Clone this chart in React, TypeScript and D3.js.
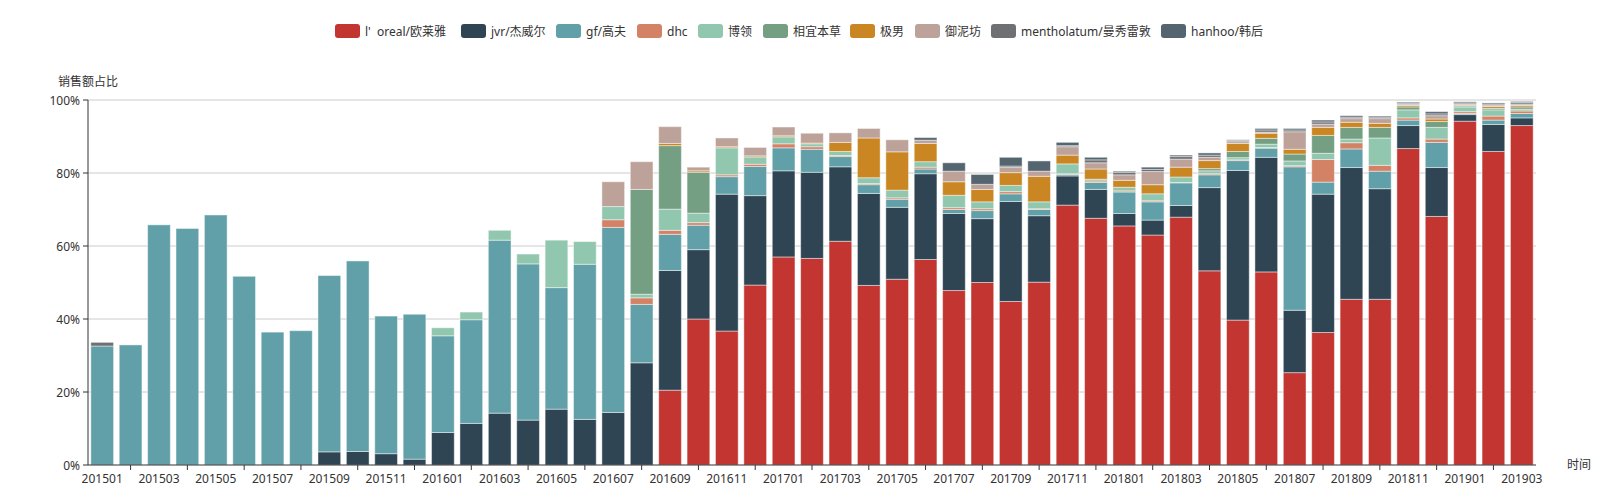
import React from 'react';
import * as d3 from 'd3';

const months = [
  '201501','201502','201503','201504','201505','201506','201507','201508','201509','201510','201511','201512',
  '201601','201602','201603','201604','201605','201606','201607','201608','201609','201610','201611','201612',
  '201701','201702','201703','201704','201705','201706','201707','201708','201709','201710','201711','201712',
  '201801','201802','201803','201804','201805','201806','201807','201808','201809','201810','201811','201812',
  '201901','201902','201903'
];

const seriesNames = [
  "l'  oreal/欧莱雅", 'jvr/杰威尔', 'gf/高夫', 'dhc', '博领', '相宜本草', '极男', '御泥坊', 'mentholatum/曼秀雷敦', 'hanhoo/韩后'
];

const loreal = [0,0,0,0,0,0,0,0,0,0, 0,0,0,0,0,0,0,0,0,0, 20.5,40.0,36.7,49.3,57.0,56.6,61.3,49.2,50.9,56.3, 47.8,50.0,44.8,50.1,71.2,67.6,65.5,63.0,67.9,53.2, 39.7,52.9,25.3,36.3,45.4,45.4,86.7,68.1,94.2,85.9, 93.0];
const jvr = [0,0,0,0,0,0,0,0,3.6,3.7, 3.1,1.6,8.9,11.4,14.2,12.3,15.3,12.5,14.4,28.0, 32.8,19.0,37.5,24.5,23.6,23.6,20.4,25.2,19.7,23.5, 21.1,17.5,27.4,18.2,8.0,7.9,3.4,4.1,3.2,22.8, 41.0,31.4,17.1,37.9,36.1,30.3,6.3,13.4,1.8,7.4, 2.1];
const gf = [32.6,32.9,65.8,64.8,68.5,51.7,36.4,36.8,48.3,52.2, 37.7,39.7,26.5,28.4,47.4,42.8,33.3,42.5,50.7,16.0, 9.9,6.7,4.8,8.0,6.3,6.3,2.8,2.4,2.2,1.3, 1.1,2.2,2.1,1.7,0.4,1.9,5.9,5.0,6.2,3.5, 2.7,2.5,39.3,3.3,5.1,4.8,1.5,6.9,0.3,1.2, 1.2];
const dhc = [0,0,0,0,0,0,0,0,0,0, 0,0,0,0,0,0,0,0,2.1,1.8, 1.1,0.7,0.5,0.6,1.1,0.7,0.3,0.3,0.4,0.5, 0.5,0.5,0.6,0.2,0.2,0.4,0.3,0.3,0.1,0.3, 0.2,0.2,0.3,6.2,1.7,1.6,0.6,0.9,0.5,1.1, 0.7];
const bolin = [0,0,0,0,0,0,0,0,0,0, 0,0,2.2,2.1,2.7,2.7,13.0,6.2,3.6,1.0, 5.8,2.6,7.4,2.0,1.9,0.8,1.1,1.6,2.1,1.5, 3.4,1.9,1.7,1.9,2.7,0.5,1.0,1.9,1.5,0.8, 0.6,0.9,1.3,1.7,1.0,7.5,2.2,3.2,1.3,1.7, 0.5];
const xiangyi = [0,0,0,0,0,0,0,0,0,0, 0,0,0,0,0,0,0,0,0,28.7, 17.4,11.2,0,0,0,0,0,0,0,0, 0,0,0,0,0,0,0,0,0,0.6, 1.7,1.6,1.9,4.9,3.2,2.9,0.8,1.6,0.3,0.4, 0.6];
const jinan = [0,0,0,0,0,0,0,0,0,0, 0,0,0,0,0,0,0,0,0,0, 0.6,0.4,0.3,0.3,0.3,0.2,2.5,10.9,10.5,5.0, 3.7,3.4,3.5,7.0,2.4,2.8,1.9,2.5,2.7,2.2, 2.2,1.4,1.3,2.2,1.4,1.1,0.4,0.7,0.2,0.5, 0.4];
const yunifang = [0,0,0,0,0,0,0,0,0,0, 0,0,0,0,0,0,0,0,6.8,7.6, 4.6,1.0,2.4,2.3,2.4,2.7,2.6,2.6,3.3,0.9, 2.9,1.4,1.4,1.4,2.3,1.7,1.5,3.6,2.2,0.9, 0.5,0.3,4.8,0.9,1.0,1.3,0.3,0.9,0.3,0.4, 0.4];
const mentholatum = [1.0,0,0,0,0,0,0,0,0,0, 0,0,0,0,0,0,0,0,0,0, 0,0,0,0,0,0,0,0,0,0, 0,0,0.4,0,0.3,0.8,0.7,0.6,0.7,0.6, 0.3,0.6,0.5,0.6,0.4,0.4,0.3,0.5,0.3,0.3, 0.4];
const hanhoo = [0,0,0,0,0,0,0,0,0,0, 0,0,0,0,0,0,0,0,0,0, 0,0,0,0,0,0,0,0,0,0.7, 2.3,2.7,2.4,2.8,0.9,0.7,0.3,0.6,0.4,0.6, 0.2,0.4,0.4,0.5,0.4,0.3,0.3,0.6,0.3,0.3, 0.3];

const seriesData = [loreal, jvr, gf, dhc, bolin, xiangyi, jinan, yunifang, mentholatum, hanhoo];
const colors = ['#c23531', '#2f4554', '#61a0a8', '#d48265', '#91c7ae', '#749f83', '#ca8622', '#bda29a', '#6e7074', '#546570'];
const yTicks = [0, 20, 40, 60, 80, 100];

// layout
const W = 1600, H = 500;
const plotLeft = 88, plotRight = 1536, plotTop = 100, plotBottom = 465;
const legendX = [335, 461, 556, 637, 698, 763, 850, 915, 991, 1161];
const legendY = 31;
const FONT = "'Noto Sans', 'Noto Sans CJK SC', sans-serif";

export default function App() {
  const x = d3.scaleBand<string>().domain(months).range([plotLeft, plotRight]).paddingInner(0.2).paddingOuter(0.1);
  const y = d3.scaleLinear().domain([0, 100]).range([plotBottom, plotTop]);

  const table = months.map((m, i) => {
    const o: any = { month: m };
    seriesNames.forEach((s, k) => { o[s] = seriesData[k][i]; });
    return o;
  });
  const stacked = d3.stack<any>().keys(seriesNames)(table);

  return (
    <svg width={W} height={H} style={{ position: 'absolute', left: 0, top: 0, background: '#fff' }} fontFamily={FONT}>
      {/* legend */}
      {seriesNames.map((s, k) => (
        <g key={s} transform={`translate(${legendX[k]},${legendY})`}>
          <rect x={0} y={-7} width={25} height={14} rx={3} fill={colors[k]} />
          <text x={30} y={0} dominantBaseline="central" fontSize={12} fill="#333" style={{ whiteSpace: 'pre' }}>{s}</text>
        </g>
      ))}

      {/* grid */}
      {yTicks.filter(t => t > 0).map(t => (
        <line key={t} x1={plotLeft} x2={plotRight} y1={y(t)} y2={y(t)} stroke="#ccc" strokeWidth={1} />
      ))}

      {/* bars */}
      {stacked.map((layer, k) => (
        <g key={layer.key} fill={colors[k]}>
          {layer.map((d, i) => {
            const v = d[1] - d[0];
            if (v <= 0) return null;
            return (
              <rect key={i} x={x(months[i])!} y={y(d[1])} width={x.bandwidth()} height={y(d[0]) - y(d[1])}
                stroke="rgba(255,255,255,0.45)" strokeWidth={1} />
            );
          })}
        </g>
      ))}

      {/* y axis */}
      <line x1={plotLeft} x2={plotLeft} y1={plotTop} y2={plotBottom} stroke="#333" />
      {yTicks.map(t => (
        <g key={t}>
          <line x1={plotLeft - 5} x2={plotLeft} y1={y(t)} y2={y(t)} stroke="#333" />
          <text x={plotLeft - 8} y={y(t)} textAnchor="end" dominantBaseline="central" fontSize={12} fill="#333">{t}%</text>
        </g>
      ))}
      <text x={plotLeft} y={81} textAnchor="middle" dominantBaseline="central" fontSize={12} fill="#333">销售额占比</text>

      {/* x axis */}
      <line x1={plotLeft} x2={plotRight} y1={plotBottom} y2={plotBottom} stroke="#333" />
      {months.map((m, i) => i % 2 === 1 ? (
        <line key={'t' + m} x1={x(m)! + x.bandwidth() / 2} x2={x(m)! + x.bandwidth() / 2} y1={plotBottom} y2={plotBottom + 5} stroke="#333" />
      ) : null)}
      {months.map((m, i) => i % 2 === 0 ? (
        <text key={'l' + m} x={x(m)! + x.bandwidth() / 2} y={plotBottom + 13} textAnchor="middle" dominantBaseline="central" fontSize={12} fill="#333">{m}</text>
      ) : null)}
      <text x={plotRight + 31} y={plotBottom - 1} dominantBaseline="central" fontSize={12} fill="#333">时间</text>
    </svg>
  );
}
